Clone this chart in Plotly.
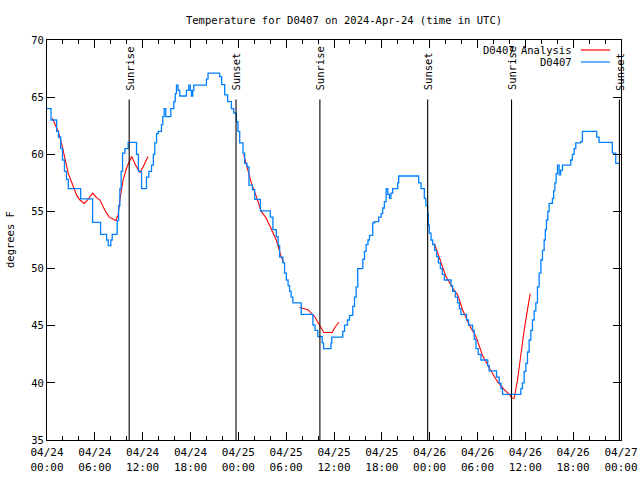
import plotly.graph_objects as go

# ---- data (hours since 2024-04-24 00:00 UTC) ----
obs_hours = [0.0, 0.50, 1.21, 1.44, 1.72, 1.94, 2.19, 2.44, 2.67, 4.22, 5.72, 6.72, 7.48, 7.68, 8.01, 8.18,
             8.80, 8.98, 9.14, 9.30, 9.48, 9.77, 10.18, 11.23, 11.46, 11.86, 12.48, 12.77, 13.11, 13.34,
             13.52, 13.74, 13.96, 14.36, 14.53, 14.69, 14.90, 15.09, 15.28, 15.53, 15.72, 15.90, 16.09,
             16.24, 16.44, 16.65, 17.49, 17.78, 17.97, 18.12, 18.28, 18.41, 20.00, 20.20, 21.66, 21.91,
             22.29, 22.66, 23.13, 23.42, 23.75, 23.95, 24.17, 24.58, 24.79, 25.08, 25.33, 25.76, 26.05,
             26.76, 28.01, 28.34, 28.76, 28.99, 29.18, 29.59, 29.80, 30.02, 30.24, 30.43, 30.62, 30.84,
             31.89, 33.35, 33.62, 33.97, 34.52, 34.69, 35.62, 35.72, 37.10, 37.32, 37.69, 37.94, 38.35,
             38.57, 38.78, 38.98, 39.61, 39.82, 40.03, 40.26, 40.45, 40.86, 41.07, 41.61, 41.91, 42.11,
             42.32, 42.54, 42.74, 42.95, 43.14, 43.36, 43.99, 44.12, 46.62, 46.92, 47.33, 47.52, 47.75,
             47.83, 47.96, 48.17, 48.37, 48.62, 48.87, 49.09, 49.34, 49.59, 49.84, 50.68, 50.88, 51.22,
             51.50, 51.72, 51.93, 52.63, 52.88, 53.38, 53.59, 53.81, 54.09, 54.43, 55.28, 55.47, 56.39,
             56.72, 56.94, 57.14, 59.44, 59.64, 59.85, 60.07, 60.27, 60.48, 60.69, 60.89, 61.11, 61.32,
             61.52, 61.73, 61.95, 62.15, 62.36, 62.51, 62.65, 62.82, 62.99, 63.40, 63.55, 63.70, 63.86,
             64.03, 64.24, 64.43, 64.65, 65.70, 65.90, 66.12, 66.33, 66.95, 67.16, 68.96, 69.25, 70.91,
             71.34, 71.75]
obs_temp = [64.0, 63.0, 62.0, 61.5, 60.5, 59.5, 58.5, 57.8, 57.0, 56.1, 54.05, 53.0, 52.5, 52.0, 52.5, 53.0,
            54.2, 55.5, 57.0, 58.5, 60.1, 60.5, 61.05, 60.0, 58.5, 57.0, 58.0, 58.5, 59.06, 60.0,
            61.0, 61.8, 62.0, 62.6, 63.3, 64.0, 63.3, 63.3, 63.3, 64.0, 64.0, 64.6, 65.3,
            66.06, 65.6, 65.1, 65.6, 66.06, 65.6, 65.1, 65.6, 66.06, 66.6, 67.1, 66.8, 66.1,
            65.2, 64.6, 64.0, 63.6, 62.85, 62.0, 61.0, 60.1, 59.2, 58.9, 57.3, 56.9, 56.06,
            55.04, 54.5, 53.4, 52.8, 52.0, 51.0, 50.5, 49.6, 49.0, 48.5, 48.0, 47.5, 47.0,
            46.0, 45.06, 44.6, 44.04, 43.5, 43.0, 43.5, 44.0, 44.5, 45.06, 45.5, 45.9, 46.7,
            47.5, 48.4, 50.0, 50.8, 51.5, 52.1, 52.5, 52.9, 54.0, 54.1, 54.5, 54.8, 55.3,
            55.85, 57.0, 56.5, 56.15, 56.6, 57.0, 57.5, 58.1, 57.5, 57.0, 56.15, 55.5, 54.8,
            53.8, 53.1, 52.5, 52.1, 51.6, 51.05, 50.5, 50.0, 49.5, 49.0, 48.5, 48.0, 47.5,
            47.0, 46.5, 46.0, 45.5, 45.06, 44.6, 43.8, 43.0, 42.5, 42.0, 41.5, 41.04, 40.5,
            39.96, 39.5, 39.0, 39.5, 40.0, 41.0, 41.7, 42.7, 43.75, 44.6, 45.5, 46.3, 47.0,
            48.4, 49.6, 50.75, 51.6, 52.5, 53.4, 54.25, 55.0, 55.7, 56.15, 56.8, 57.5, 58.3,
            59.06, 58.2, 58.6, 59.06, 59.5, 60.0, 60.5, 61.0, 61.1, 62.0, 61.5, 61.05, 60.1,
            59.2, 59.2]

ana_hours = [0.66, 1.41, 1.92, 2.25, 2.67, 3.29, 3.72, 4.13, 4.67, 5.10, 5.72, 6.22, 6.64, 7.26, 7.80,
             8.64, 8.93, 9.14, 9.55, 9.98, 10.61, 11.11, 11.65, 12.06, 12.68, None,
             24.67, 25.21, 25.63, 26.26, 26.88, 27.51, 28.14, 28.76, 29.39, 29.71, None,
             31.68, 32.72, 33.56, 34.19, 34.72, 35.78, 36.06, 36.60, None,
             48.58, 49.21, 50.05, 50.88, 51.50, 52.13, 52.97, 53.81, 54.63, 55.47, 56.51, 57.35,
             57.98, 58.31, 58.60, 59.02, 59.44, 59.85, 60.27, 60.61]
ana_temp = [63.15, 62.0, 60.67, 59.5, 58.3, 57.2, 56.4, 56.0, 55.7, 56.0, 56.6, 56.2, 56.0, 55.1, 54.5,
            54.2, 54.7, 56.0, 57.75, 58.8, 59.8, 59.06, 58.4, 58.9, 59.8, None,
            60.0, 58.5, 57.5, 56.3, 55.0, 54.4, 53.5, 52.5, 51.0, 50.5, None,
            46.6, 46.4, 45.8, 45.06, 44.4, 44.4, 44.8, 45.3, None,
            52.2, 50.9, 49.3, 48.3, 47.7, 46.4, 45.06, 44.04, 42.4, 41.3, 40.1, 39.4,
            39.0, 38.65, 38.65, 40.25, 42.6, 44.6, 46.4, 47.8]

sun_hours = [10.31, 23.71, 34.23, 47.75, 58.27, 71.8]
sun_labels = ["Sunrise", "Sunset", "Sunrise", "Sunset", "Sunrise", "Sunset"]

tick_hours = [0, 6, 12, 18, 24, 30, 36, 42, 48, 54, 60, 66, 72]
tick_labels = ["04/24<br>00:00", "04/24<br>06:00", "04/24<br>12:00", "04/24<br>18:00",
               "04/25<br>00:00", "04/25<br>06:00", "04/25<br>12:00", "04/25<br>18:00",
               "04/26<br>00:00", "04/26<br>06:00", "04/26<br>12:00", "04/26<br>18:00",
               "04/27<br>00:00"]

FONT = "DejaVu Sans Mono"
RED = "#ff0000"
BLUE = "#0080ff"

fig = go.Figure()
fig.add_trace(go.Scatter(x=ana_hours, y=ana_temp, mode="lines", name="D0407 Analysis",
                         line=dict(color=RED, width=1.1), connectgaps=False, showlegend=False))
fig.add_trace(go.Scatter(x=obs_hours, y=obs_temp, mode="lines", name="D0407",
                         line=dict(color=BLUE, width=1.3, shape="hv"), showlegend=False))

for h, lab in zip(sun_hours, sun_labels):
    fig.add_shape(type="line", xref="x", yref="y", x0=h, x1=h, y0=35, y1=64.8,
                  line=dict(color="black", width=1.1))
    fig.add_annotation(x=h, y=65.4, xref="x", yref="y", text=lab, textangle=-90,
                       showarrow=False, xanchor="center", yanchor="bottom",
                       font=dict(family=FONT, size=10.5, color="black"))

# gnuplot-style legend (text then line sample)
leg = [("D0407 Analysis", RED, 0.975), ("D0407", BLUE, 0.945)]
for name, col, yp in leg:
    fig.add_annotation(x=0.918, y=yp, xref="paper", yref="paper", text=name, showarrow=False,
                       xanchor="right", yanchor="middle", font=dict(family=FONT, size=10.5, color="black"))
    fig.add_shape(type="line", xref="paper", yref="paper", x0=0.930, x1=0.981, y0=yp, y1=yp,
                  line=dict(color=col, width=1.2))

# y-axis title as free text (gnuplot position)
fig.add_annotation(x=(10 - 47) / 574, y=0.5, xref="paper", yref="paper", text="degrees F", textangle=-90,
                   showarrow=False, xanchor="center", yanchor="middle",
                   font=dict(family=FONT, size=10.5, color="black"))

fig.update_layout(
    width=640, height=480,
    margin=dict(l=47, r=19, t=40, b=40, autoexpand=False),
    paper_bgcolor="white", plot_bgcolor="white",
    title=dict(text="Temperature for D0407 on 2024-Apr-24 (time in UTC)", x=344 / 640, xref="container",
               xanchor="center", y=1 - 20 / 480, yref="container", yanchor="middle",
               font=dict(family=FONT, size=10.5, color="black")),
    font=dict(family=FONT, size=10.5, color="black"),
    showlegend=False,
)
fig.update_xaxes(range=[0, 72], tickvals=tick_hours, ticktext=tick_labels, showgrid=False, zeroline=False,
                 showline=True, linecolor="black", linewidth=1, mirror="ticks", ticks="inside",
                 ticklen=8, tickcolor="black", automargin=False, ticklabelstandoff=2,
                 minor=dict(dtick=2, tick0=0, ticks="inside", ticklen=4, tickcolor="black", showgrid=False),
                 tickfont=dict(family=FONT, size=11, color="black"))
fig.update_yaxes(range=[35, 70], dtick=5, showgrid=False, zeroline=False,
                 showline=True, linecolor="black", linewidth=1, mirror="ticks", ticks="inside",
                 ticklen=8, tickcolor="black", automargin=False,
                 tickfont=dict(family=FONT, size=10.5, color="black"))

# remove the default page margin so the 640x480 figure fills the window exactly
fig.write_html("out.html",
               config={"displayModeBar": False},
               post_script="document.body.style.margin='0px';document.body.style.padding='0px';"
                           "document.body.style.overflow='hidden';")
